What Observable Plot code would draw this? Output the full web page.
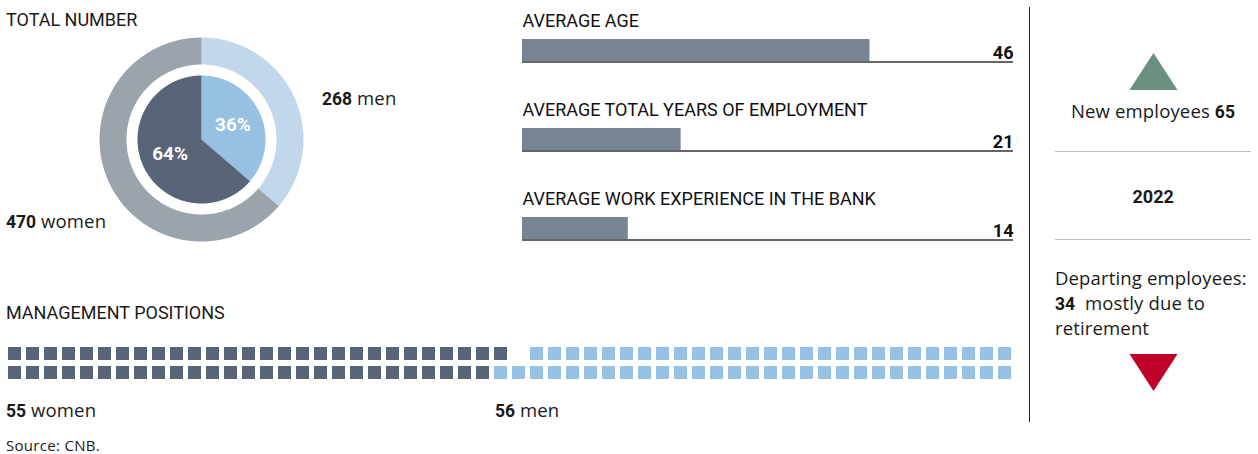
<!DOCTYPE html>
<html><head><meta charset="utf-8">
<script src="https://cdn.jsdelivr.net/npm/d3@7"></script>
<script src="https://cdn.jsdelivr.net/npm/@observablehq/plot@0.6"></script>
<style>
body{margin:0;background:#fff;}
#root{position:relative;width:1258px;height:454px;overflow:hidden;font-family:"Open Sans",sans-serif;color:#1a1a1a;}
.abs{position:absolute;white-space:nowrap;}
.head{font-family:Roboto,sans-serif;font-size:18px;line-height:20px;}
.txt{font-size:18.5px;letter-spacing:0.15px;line-height:22px;}
.txt b{font-family:Roboto,sans-serif;font-weight:700;font-size:17.5px;letter-spacing:0;}
.big{font-family:Roboto,sans-serif;font-weight:700;font-size:18px;line-height:20px;}
.src{font-size:15px;letter-spacing:0.3px;line-height:15px;}
.bl{display:inline-block;width:0;height:0;vertical-align:baseline;}
.panel{position:absolute;}
.panel svg{display:block;overflow:visible;}
</style></head><body><div id="root"></div>
<script>
// ---------- data ----------
const genders = ["men", "women"];
const totalCounts = [268, 470];
const ageMetrics = ["AVERAGE AGE", "AVERAGE TOTAL YEARS OF EMPLOYMENT", "AVERAGE WORK EXPERIENCE IN THE BANK"];
const ageValues = [46, 21, 14];
const ageScaleMax = 65;
const mgmtWomenPerRow = [28, 27];
const mgmtMenPerRow = [27, 29];
const flowLabels = ["New employees", "Departing employees"];
const flowValues = [65, 34];
const flowNote = "mostly due to";
const flowNote2 = "retirement";
const reportYear = "2022";
const sourceText = "Source: CNB.";

// ---------- helpers ----------
const root = document.getElementById("root");
function place(html, x, baseline, cls, anchor) {
  const d = document.createElement("div");
  d.className = "abs " + (cls || "");
  d.innerHTML = html + '<span class="bl"></span>';
  d.style.left = "0px"; d.style.top = "0px";
  root.appendChild(d);
  const m = d.querySelector(".bl");
  d.style.top = (baseline - m.offsetTop) + "px";
  const w = d.offsetWidth;
  d.style.left = (anchor === "middle" ? x - w / 2 : anchor === "end" ? x - w : x) + "px";
  return d;
}
function panel(el, x, y) {
  const d = document.createElement("div");
  d.className = "panel";
  d.style.left = x + "px"; d.style.top = y + "px";
  d.appendChild(el);
  root.appendChild(d);
}
function hline(x, y, w, h, color) {
  const d = document.createElement("div");
  d.style.cssText = `position:absolute;left:${x}px;top:${y}px;width:${w}px;height:${h}px;background:${color}`;
  root.appendChild(d);
}

// ---------- donut ----------
const totals = genders.map((g, i) => ({gender: g, value: totalCounts[i]}));
const totalSum = d3.sum(totalCounts);
const slices = d3.pie().sort(null).value(d => d.value)(totals);
const R = 102, Rin = 75, P = 64;
function arcPts(a0, a1, r) {
  const n = Math.max(2, Math.ceil((a1 - a0) / (Math.PI / 360)));
  return d3.range(n + 1).map(k => {
    const a = a0 + (a1 - a0) * k / n;
    return {x: r * Math.sin(a), y: r * Math.cos(a)};
  });
}
const ringColor = {men: "#c1d8ec", women: "#9ba3ad"};
const pieColor = {men: "#97c1e3", women: "#586477"};
const donutMarks = [];
for (const s of slices) {
  const ring = [...arcPts(s.startAngle, s.endAngle, R), ...arcPts(s.startAngle, s.endAngle, Rin).reverse()];
  donutMarks.push(Plot.line(ring, {x: "x", y: "y", fill: ringColor[s.data.gender], stroke: "none"}));
  const wedge = [{x: 0, y: 0}, ...arcPts(s.startAngle, s.endAngle, P), {x: 0, y: 0}];
  donutMarks.push(Plot.line(wedge, {x: "x", y: "y", fill: pieColor[s.data.gender], stroke: "none"}));
}
donutMarks.push(Plot.text(slices, {
  x: s => 0.54 * P * Math.sin((s.startAngle + s.endAngle) / 2),
  y: s => 0.54 * P * Math.cos((s.startAngle + s.endAngle) / 2),
  text: s => Math.round(100 * s.data.value / totalSum) + "%",
  fill: "white", fontSize: 19, fontWeight: 700, fontFamily: "Roboto"
}));
panel(Plot.plot({
  width: 2 * R, height: 2 * R, margin: 0,
  x: {domain: [-R, R], axis: null}, y: {domain: [-R, R], axis: null},
  marks: donutMarks
}), 201 - R, 139 - R);

place("TOTAL NUMBER", 6, 26, "head");
place(`<b>${totalCounts[0]}</b> ${genders[0]}`, 322, 105, "txt");
place(`<b>${totalCounts[1]}</b> ${genders[1]}`, 6, 228, "txt");

// ---------- bars ----------
const ageData = ageMetrics.map((m, i) => ({metric: m, value: ageValues[i]}));
panel(Plot.plot({
  width: 491, height: 250, margin: 0,
  x: {domain: [0, ageScaleMax], axis: null},
  y: {type: "band", domain: ageMetrics, range: [39, 239.3], paddingInner: 0.753, paddingOuter: 0, axis: null},
  marks: [
    Plot.barX(ageData, {x: "value", y: "metric", fill: "#778494"}),
    Plot.ruleY(ageData, {y: "metric", dy: 11.5, stroke: "#333", strokeWidth: 1.4}),
    Plot.text(ageData, {y: "metric", frameAnchor: "right", textAnchor: "end", lineAnchor: "bottom", dy: 8.5,
      text: d => String(d.value), fontSize: 18, fontWeight: 700, fontFamily: "Roboto", fill: "#111"}),
    Plot.text(ageData, {y: "metric", frameAnchor: "left", textAnchor: "start", lineAnchor: "bottom", dy: -23.5,
      text: "metric", fontSize: 18, fontFamily: "Roboto", fill: "#111"})
  ]
}), 522, 0);

// ---------- management waffle ----------
const nCols = d3.max(mgmtWomenPerRow.map((w, i) => w + mgmtMenPerRow[i]));
const cells = [];
mgmtWomenPerRow.forEach((w, r) => { for (let c = 0; c < w; c++) cells.push({row: r, col: c, gender: "women"}); });
mgmtMenPerRow.forEach((m, r) => { for (let c = nCols - m; c < nCols; c++) cells.push({row: r, col: c, gender: "men"}); });
panel(Plot.plot({
  width: 1009, height: 32, margin: 0,
  x: {type: "band", domain: d3.range(nCols), paddingInner: 0.28, paddingOuter: 0, axis: null},
  y: {type: "band", domain: d3.range(mgmtWomenPerRow.length), paddingInner: 0.316, paddingOuter: 0, axis: null},
  color: {domain: ["women", "men"], range: ["#586477", "#97c1e3"]},
  marks: [Plot.cell(cells, {x: "col", y: "row", fill: "gender", inset: 0})]
}), 5, 347);

place("MANAGEMENT POSITIONS", 6, 319, "head");
place(`<b>${d3.sum(mgmtWomenPerRow)}</b> women`, 6, 417, "txt");
place(`<b>${d3.sum(mgmtMenPerRow)}</b> men`, 495, 417, "txt");
place(sourceText, 6, 451, "src");

// ---------- right panel ----------
hline(1028.5, 7, 1.5, 415, "#222");
const tri = {draw(ctx, size) {
  const u = Math.sqrt(size / Math.PI);
  ctx.moveTo(0, -1.1 * u); ctx.lineTo(1.43 * u, 1.1 * u); ctx.lineTo(-1.43 * u, 1.1 * u); ctx.closePath();
}};
const flows = flowLabels.map((l, i) => ({label: l, value: flowValues[i]}));
panel(Plot.plot({width: 60, height: 44, margin: 0, x: {axis: null}, y: {axis: null},
  marks: [Plot.dot([flows[0]], {frameAnchor: "middle", r: 16.8, symbol: tri, fill: "#6b9080", stroke: null})]}), 1123, 48.5);
panel(Plot.plot({width: 60, height: 44, margin: 0, x: {axis: null}, y: {axis: null},
  marks: [Plot.dot([flows[1]], {frameAnchor: "middle", r: 16.8, symbol: tri, rotate: 180, fill: "#c1002a", stroke: null})]}), 1123, 349.5);

place(`${flows[0].label} <b>${flows[0].value}</b>`, 1153, 118, "txt", "middle");
hline(1055, 150.5, 196, 1.5, "#b7bfca");
place(reportYear, 1153, 203, "big", "middle");
hline(1055, 238.5, 196, 1.5, "#b7bfca");
place(`${flows[1].label}:`, 1055, 285, "txt");
place(`<b>${flows[1].value}</b>&nbsp; ${flowNote}`, 1055, 310, "txt");
place(flowNote2, 1055, 335, "txt");
</script></body></html>
